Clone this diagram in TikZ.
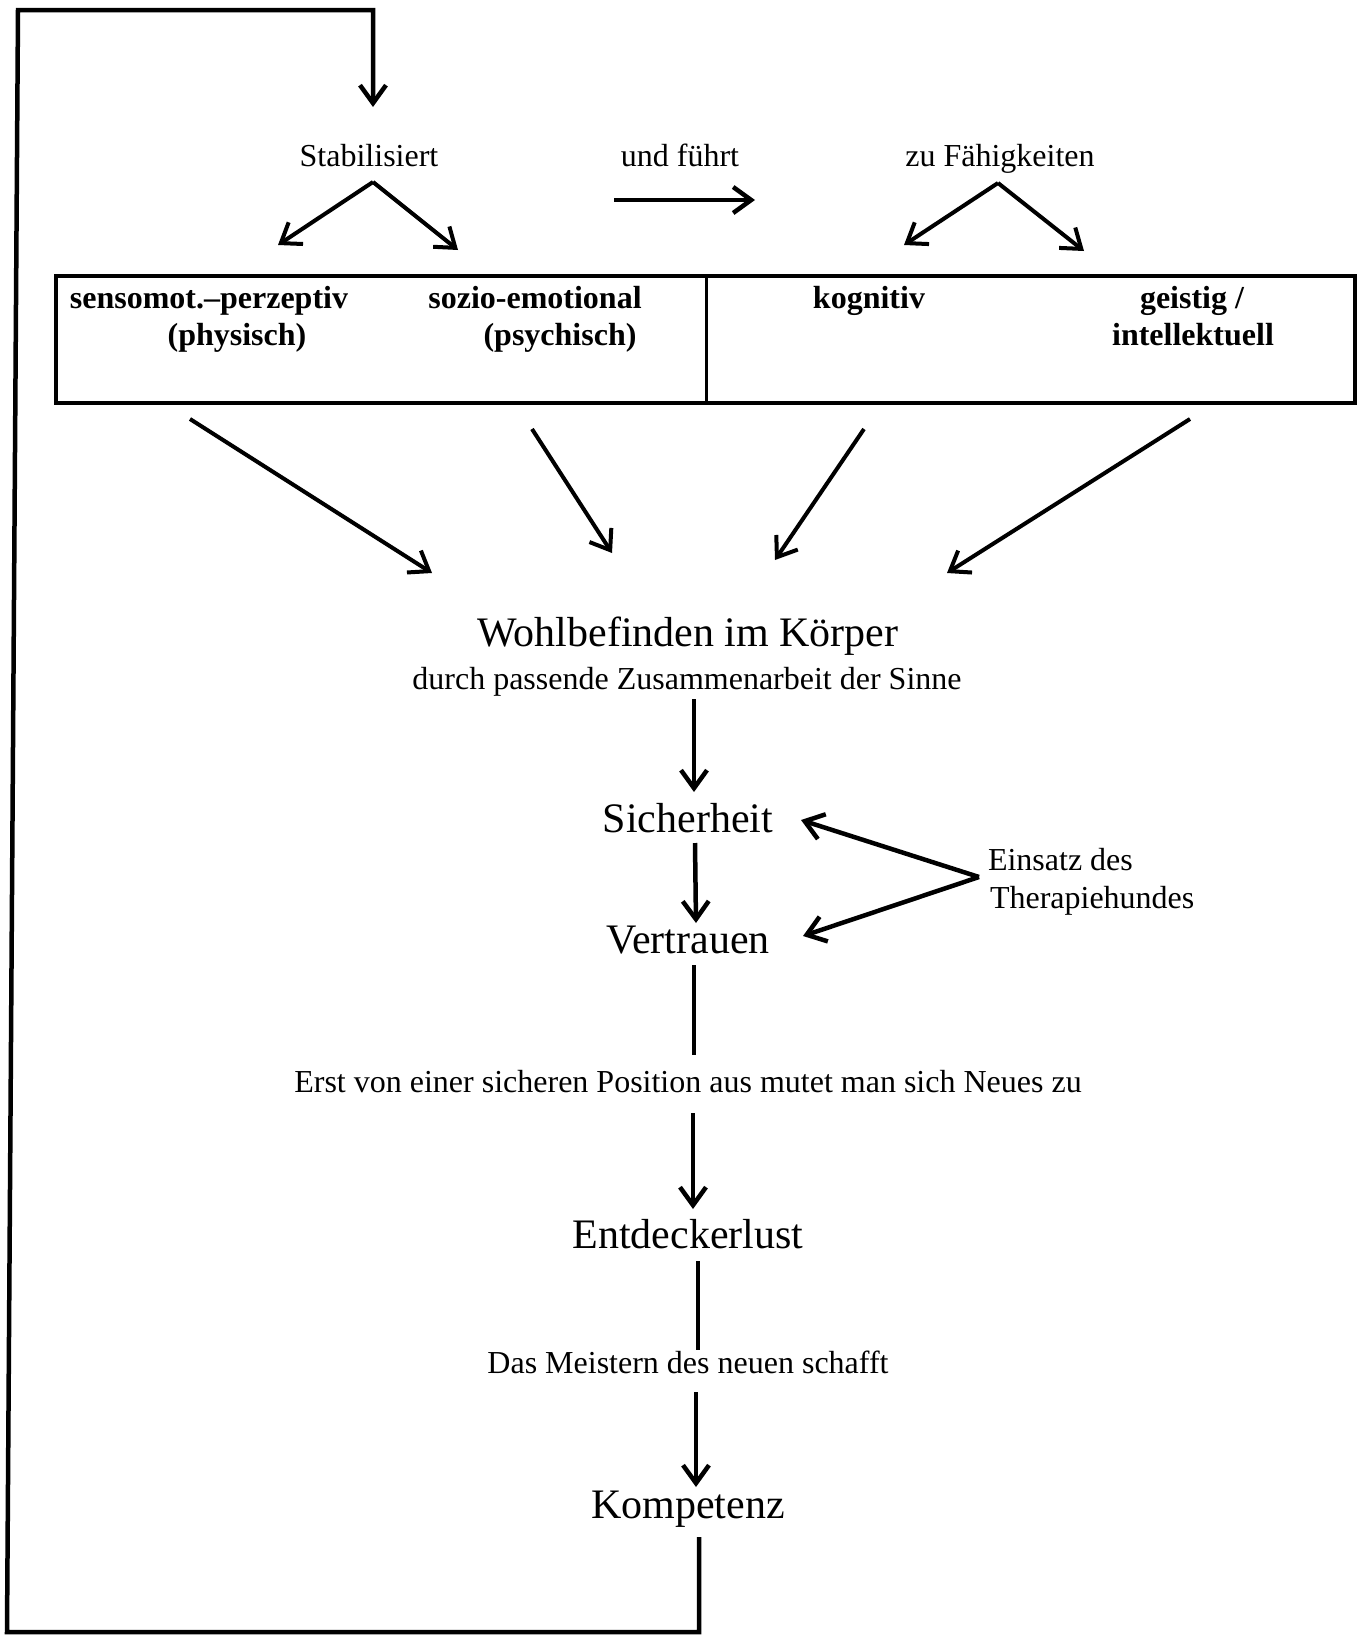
\documentclass[tikz,border=0pt]{standalone}
\usepackage{fontspec}
\setmainfont{Liberation Serif}
\usetikzlibrary{arrows.meta}
\begin{document}
\begin{tikzpicture}[x=1pt,y=-1pt,
  every node/.style={inner sep=0pt, outer sep=0pt, anchor=base},
  normal/.style={font=\fontsize{32}{38}\selectfont},
  big/.style={font=\fontsize{42}{48}\selectfont},
  boldtxt/.style={font=\fontsize{32}{36}\selectfont\bfseries},
  arr/.style={line width=4.5pt, line join=miter, -{Straight Barb[length=18pt,width=26pt]}},
  thinarr/.style={line width=4pt, -{Straight Barb[length=18pt,width=26pt]}},
  plain/.style={line width=4.5pt},
  boxline/.style={line width=4pt},
]
\useasboundingbox (0,0) rectangle (1367,1641);

% top labels
\node[normal] (stab) at (369,166) {Stabilisiert};
\node[normal] (fuehrt) at (680,166) {und führt};
\node[normal] (faeh) at (1000,166) {zu Fähigkeiten};

% box
\node[draw, boxline, minimum width=1299pt, minimum height=127pt, anchor=north west] (box) at (56,276) {};
\coordinate (divtop) at (706,276);
\coordinate (divbot) at (706,403);
\draw[line width=3pt] (divtop) -- (divbot);

\node[boldtxt] (sens) at (209,308) {sensomot.–perzeptiv};
\node[boldtxt] (phys) at (237,345) {(physisch)};
\node[boldtxt] (sozio) at (535,308) {sozio-emotional};
\node[boldtxt] (psych) at (560,345) {(psychisch)};
\node[boldtxt] (kogn) at (869,308) {kognitiv};
\node[boldtxt] (geist) at (1192,308) {geistig /};
\node[boldtxt] (intel) at (1193,345) {intellektuell};

% main column
\node[big] (wohl) at (688,646) {Wohlbefinden im Körper};
\node[normal] (sinne) at (687,689) {durch passende Zusammenarbeit der Sinne};
\node[big] (sich) at (688,832) {Sicherheit};
\node[big] (vert) at (688,953) {Vertrauen};
\node[normal, anchor=base west] (einsatz) at (988,870) {Einsatz des};
\node[normal, anchor=base west] (thera) at (990,908) {Therapiehundes};
\node[normal] (erst) at (688,1092) {Erst von einer sicheren Position aus mutet man sich Neues zu};
\node[big] (entd) at (688,1248) {Entdeckerlust};
\node[normal] (meist) at (688,1373) {Das Meistern des neuen schafft};
\node[big] (komp) at (688,1518) {Kompetenz};

% coordinates
\coordinate (c1apex) at (373,182);
\coordinate (c1l) at (278,245);
\coordinate (c1r) at (458,250);
\coordinate (fa) at (614,200);
\coordinate (fb) at (755,200);
\coordinate (c2apex) at (998,183);
\coordinate (c2l) at (904,245);
\coordinate (c2r) at (1084,251);

\coordinate (b1s) at (190,419); \coordinate (b1e) at (432,573);
\coordinate (b2s) at (532,429); \coordinate (b2e) at (612,553);
\coordinate (b3s) at (864,429); \coordinate (b3e) at (775,560);
\coordinate (b4s) at (1190,419); \coordinate (b4e) at (947,573);

\coordinate (w1) at (694,699); \coordinate (w2) at (694,792);
\coordinate (s1) at (695,843); \coordinate (s2) at (696,923);
\coordinate (eapex) at (979,877);
\coordinate (et1) at (801,820);
\coordinate (et2) at (803,936);
\coordinate (v1) at (694,965); \coordinate (v2) at (694,1055);
\coordinate (e1) at (693,1113); \coordinate (e2) at (693,1209);
\coordinate (d1) at (698,1261); \coordinate (d2) at (698,1350);
\coordinate (m1) at (696,1392); \coordinate (m2) at (696,1487);
\coordinate (k1) at (699,1537);
\coordinate (lb) at (699,1632);
\coordinate (ll) at (7,1632);
\coordinate (lt) at (18,10);
\coordinate (lr) at (373,10);
\coordinate (ltip) at (373,107);

% connectors
\draw[arr] (k1) -- (lb) -- (ll) -- (lt) -- (lr) -- (ltip);
\draw[thinarr] (c1apex) -- (c1l);
\draw[thinarr] (c1apex) -- (c1r);
\draw[arr] (fa) -- (fb);
\draw[thinarr] (c2apex) -- (c2l);
\draw[thinarr] (c2apex) -- (c2r);

\draw[thinarr] (b1s) -- (b1e);
\draw[thinarr] (b2s) -- (b2e);
\draw[thinarr] (b3s) -- (b3e);
\draw[thinarr] (b4s) -- (b4e);

\draw[arr] (w1) -- (w2);
\draw[arr] (s1) -- (s2);
\draw[arr] (eapex) -- (et1);
\draw[arr] (eapex) -- (et2);
\draw[plain] (v1) -- (v2);
\draw[arr] (e1) -- (e2);
\draw[plain] (d1) -- (d2);
\draw[arr] (m1) -- (m2);
\end{tikzpicture}
\end{document}
